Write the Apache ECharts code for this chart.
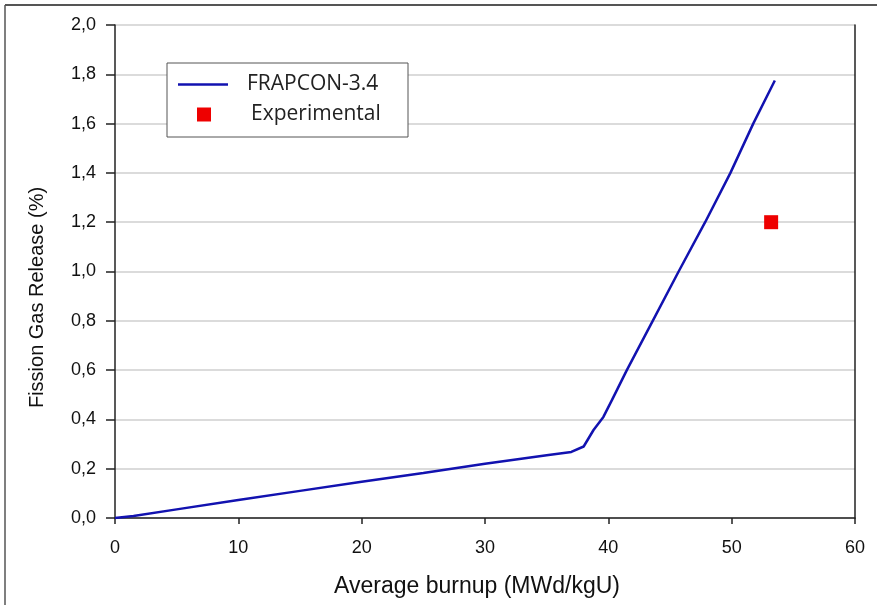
<!DOCTYPE html>
<html>
<head>
<meta charset="utf-8">
<script src="https://cdn.jsdelivr.net/npm/echarts@6/dist/echarts.min.js"></script>
<style>
html,body{margin:0;padding:0;background:#fff;}
#chart{width:877px;height:605px;}
</style>
</head>
<body>
<div id="chart"></div>
<script>
// Data
const frapconBurnup = [0, 1.5, 5, 10, 15, 20, 25, 30, 35, 37, 38, 38.8, 39.6, 40.3, 41.5, 43.6, 45.7, 47.85, 49.9, 51.75, 53.5];
const frapconFGR    = [0, 0.008, 0.035, 0.073, 0.11, 0.147, 0.183, 0.22, 0.255, 0.268, 0.29, 0.357, 0.41, 0.479, 0.6, 0.8, 1.0, 1.2, 1.4, 1.6, 1.775];
const expBurnup = [53.2];
const expFGR    = [1.2];
const seriesNames = ['FRAPCON-3.4', 'Experimental'];
const xAxisTitle = 'Average burnup (MWd/kgU)';
const yAxisTitle = 'Fission Gas Release (%)';

const chart = echarts.init(document.getElementById('chart'), null, {renderer: 'canvas'});
const axisFont = 'Liberation Sans, Arial, sans-serif';
const option = {
  backgroundColor: '#fff',
  animation: false,
  grid: {left: 115, right: 22, top: 25, bottom: 87, containLabel: false},
  xAxis: {
    type: 'value', min: 0, max: 60, interval: 10,
    name: xAxisTitle, nameLocation: 'middle', nameGap: 57,
    nameTextStyle: {fontFamily: axisFont, fontSize: 23, color: '#111', padding: [0, 16, 0, 0]},
    axisLine: {show: true, onZero: false, lineStyle: {color: '#222', width: 1.5}},
    axisTick: {show: true, inside: false, length: 6, lineStyle: {color: '#222', width: 1.5}},
    axisLabel: {fontFamily: axisFont, fontSize: 18, color: '#111', margin: 21},
    splitLine: {show: false}
  },
  yAxis: [{
    type: 'value', min: 0, max: 2, interval: 0.2,
    name: yAxisTitle, nameLocation: 'middle', nameGap: 68, nameRotate: 90,
    nameTextStyle: {fontFamily: axisFont, fontSize: 20, color: '#111', padding: [0, 52, 0, 0]},
    axisLine: {show: true, lineStyle: {color: '#222', width: 1.5}},
    axisTick: {show: true, inside: false, length: 9, lineStyle: {color: '#222', width: 1.5}},
    axisLabel: {fontFamily: axisFont, fontSize: 18, color: '#111', margin: 19,
      formatter: v => v.toFixed(1).replace('.', ',')},
    splitLine: {show: true, lineStyle: {color: '#cfcfcf', width: 1.5}}
  }, {
    type: 'value', min: 0, max: 2, interval: 0.2, position: 'right',
    axisLine: {show: true, lineStyle: {color: '#222', width: 1.5}},
    axisTick: {show: false}, axisLabel: {show: false}, splitLine: {show: false}
  }],
  legend: [{
    data: [{name: seriesNames[0], icon: 'rect'}], orient: 'vertical', left: 178, top: 74,
    itemWidth: 50, itemHeight: 2.5, padding: 0,
    textStyle: {fontFamily: 'Open Sans, sans-serif', fontSize: 21, color: '#222', padding: [0, 0, 0, 14]},
    selectedMode: false
  }, {
    data: [{name: seriesNames[1], icon: 'rect'}], orient: 'vertical', left: 197, top: 104,
    itemWidth: 14, itemHeight: 14, padding: 0,
    textStyle: {fontFamily: 'Open Sans, sans-serif', fontSize: 21, color: '#222', padding: [0, 0, 0, 35]},
    selectedMode: false
  }],
  graphic: [
    {type: 'rect', z: 3, shape: {x: 167, y: 63, width: 241, height: 74},
     style: {fill: '#fff', stroke: '#555', lineWidth: 1}},
    {type: 'line', z: 10, shape: {x1: 5, y1: 5, x2: 877, y2: 5}, style: {stroke: '#555', lineWidth: 2}},
    {type: 'line', z: 10, shape: {x1: 5, y1: 5, x2: 5, y2: 605}, style: {stroke: '#555', lineWidth: 1.5}}
  ],
  series: [{
    name: seriesNames[0], type: 'line', symbol: 'none', smooth: false,
    data: frapconBurnup.map((x, i) => [x, frapconFGR[i]]),
    lineStyle: {color: '#1212b0', width: 2.5}, itemStyle: {color: '#1212b0'}, z: 5
  }, {
    name: seriesNames[1], type: 'scatter', symbol: 'rect', symbolSize: 14,
    data: expBurnup.map((x, i) => [x, expFGR[i]]),
    itemStyle: {color: '#ee0000', opacity: 1}, z: 6
  }]
};
chart.setOption(option);
</script>
</body>
</html>
